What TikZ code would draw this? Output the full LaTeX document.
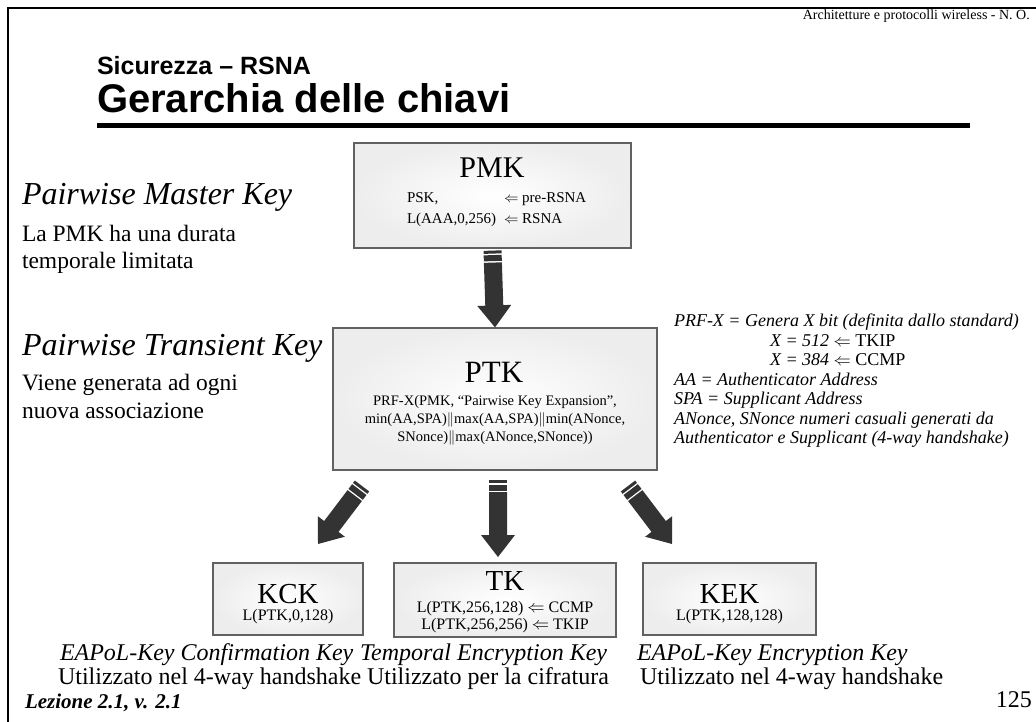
\documentclass[tikz,border=0pt]{standalone}
\usepackage{fontspec}
\setmainfont{Liberation Serif}
\newfontfamily\arialfont{Liberation Sans}
\usetikzlibrary{calc}
\newcommand\fsz[1]{\fontsize{#1}{#1}\selectfont}
\newcommand\stripedarrow[2]{%
  \path #1 coordinate (sa-tail) #2 coordinate (sa-tip);
  \pgfpointdiff{\pgfpointanchor{sa-tail}{center}}{\pgfpointanchor{sa-tip}{center}}%
  \pgfgetlastxy{\sadx}{\sady}%
  \pgfmathsetmacro\saang{atan2(\sady,\sadx)}%
  \pgfmathsetmacro\salen{veclen(\sadx,\sady)}%
  \begin{scope}[shift={(sa-tail)}, rotate=\saang]
    \fill[arrowfill] (0pt,-9pt) rectangle (3pt,9pt);
    \fill[arrowfill] (4.5pt,-9pt) rectangle (10.5pt,9pt);
    \fill[arrowfill] (12pt,-9pt) -- (\salen pt-22pt,-9pt) -- (\salen pt-22pt,-17pt)
      -- (\salen pt,0pt) -- (\salen pt-22pt,17pt) -- (\salen pt-22pt,9pt) -- (12pt,9pt) -- cycle;
  \end{scope}}
\tikzset{
  keybox/.style={draw=black!62, line width=1.2pt, inner color=white, outer color=black!7, rectangle, inner sep=0pt},
  arrowfill/.style={fill=black!80},
  tx/.style={inner sep=0pt, outer sep=0pt, anchor=base west},
  txc/.style={inner sep=0pt, outer sep=0pt, anchor=base},
}
\begin{document}
\begin{tikzpicture}[x=1pt, y=-1pt]
\useasboundingbox (0,0) rectangle (1036,722);
\fill[white] (0,0) rectangle (1036,722);
% frame
\draw[line width=2pt] (8,722) -- (8,8) -- (1036,8);
% header
\node[inner sep=0pt, anchor=base east] (hdr) at (1030,20) {\fsz{14}Architetture e protocolli wireless - N. O.};
\node[tx] (sub) at (97,75) {\arialfont\bfseries\fsz{25}Sicurezza – RSNA};
\node[tx] (title) at (97,113) {\arialfont\bfseries\fsz{40}Gerarchia delle chiavi};
\fill (97,123.5) rectangle (970,128.5);

% boxes
\node[keybox, minimum width=277pt, minimum height=105pt] (pmk) at (492.5,195.5) {};
\node[keybox, minimum width=324pt, minimum height=142pt] (ptk) at (495,399) {};
\node[keybox, minimum width=150pt, minimum height=72pt] (kck) at (288,599) {};
\node[keybox, minimum width=222pt, minimum height=74pt] (tk) at (505,600) {};
\node[keybox, minimum width=173pt, minimum height=72pt] (kek) at (729.5,599) {};

% PMK content
\node[txc] (pmkl) at (492,178) {\fsz{30}PMK};
\node[tx] (pmk1a) at (407,203) {\fsz{15}PSK,};
\node[tx] (pmk1b) at (504,203) {\fsz{15}$\Leftarrow$ pre-RSNA};
\node[tx] (pmk2a) at (407,223) {\fsz{15}L(AAA,0,256)};
\node[tx] (pmk2b) at (504,223) {\fsz{15}$\Leftarrow$ RSNA};

% PTK content
\node[txc] (ptkl) at (494,382) {\fsz{31}PTK};
\node[inner sep=0pt, outer sep=0pt, anchor=north, align=center, font=\fontsize{14.5}{18}\selectfont] (ptkt) at (495,395)
  {PRF-X(PMK, “Pairwise Key Expansion”,\\min(AA,SPA)$\|$max(AA,SPA)$\|$min(ANonce,\\SNonce)$\|$max(ANonce,SNonce))};

% bottom boxes content
\node[txc] (kckl) at (288,603) {\fsz{29}KCK};
\node[txc] (kck1) at (288,620) {\fsz{16}L(PTK,0,128)};
\node[txc] (tkl) at (505,590) {\fsz{29}TK};
\node[inner sep=0pt, outer sep=0pt, anchor=north, align=center, font=\fontsize{16}{17}\selectfont] (tkt) at (505,601)
  {L(PTK,256,128) $\Leftarrow$ CCMP\\L(PTK,256,256) $\Leftarrow$ TKIP};
\node[txc] (kekl) at (729.5,603) {\fsz{29}KEK};
\node[txc] (kek1) at (729.5,620) {\fsz{16}L(PTK,128,128)};

% arrows
\stripedarrow{($(pmk.south)+(0,2)$)}{(ptk.north)}
\stripedarrow{(362,486)}{(318,544)}
\stripedarrow{(498,480)}{(498,557)}
\stripedarrow{(628,486)}{(672,544)}

% left descriptions
\node[tx] (pmkt) at (22,205) {\fsz{32}\itshape Pairwise Master Key};
\node[tx] (pmkd1) at (22,242) {\fsz{23.5}La PMK ha una durata};
\node[tx] (pmkd2) at (22,268) {\fsz{23.5}temporale limitata};
\node[tx] (ptkt2) at (22,355) {\fsz{32}\itshape Pairwise Transient Key};
\node[tx] (ptkd1) at (22,390) {\fsz{23.5}Viene generata ad ogni};
\node[tx] (ptkd2) at (22,418) {\fsz{23.5}nuova associazione};

% right notes
\node[inner sep=0pt, outer sep=0pt, anchor=north west, align=left, font=\fontsize{18}{19.5}\selectfont\itshape] (notes) at (674,314)
  {PRF-X = Genera X bit (definita dallo standard)\\
   \hspace*{96pt}X = 512 \upshape$\Leftarrow$ TKIP\\
   \hspace*{96pt}X = 384 \upshape$\Leftarrow$ CCMP\\
   AA = Authenticator Address\\
   SPA = Supplicant Address\\
   ANonce, SNonce numeri casuali generati da\\
   Authenticator e Supplicant (4-way handshake)};

% bottom descriptions
\node[tx] (kckt) at (60,660) {\fsz{24}\itshape EAPoL-Key Confirmation Key};
\node[tx] (kckd) at (58,684) {\fsz{24}Utilizzato nel 4-way handshake};
\node[tx] (tkt) at (360,660) {\fsz{24}\itshape Temporal Encryption Key};
\node[tx] (tkd) at (367,684) {\fsz{24}Utilizzato per la cifratura};
\node[tx] (kekt) at (637,660) {\fsz{24}\itshape EAPoL-Key Encryption Key};
\node[tx] (kekd) at (640,684) {\fsz{24}Utilizzato nel 4-way handshake};

% footer
\node[tx] (lez) at (25,708) {\fsz{21}\bfseries\itshape Lezione 2.1, v. 2.1};
\node[inner sep=0pt, anchor=base east] (pg) at (1032,707) {\fsz{24}125};
\end{tikzpicture}
\end{document}
